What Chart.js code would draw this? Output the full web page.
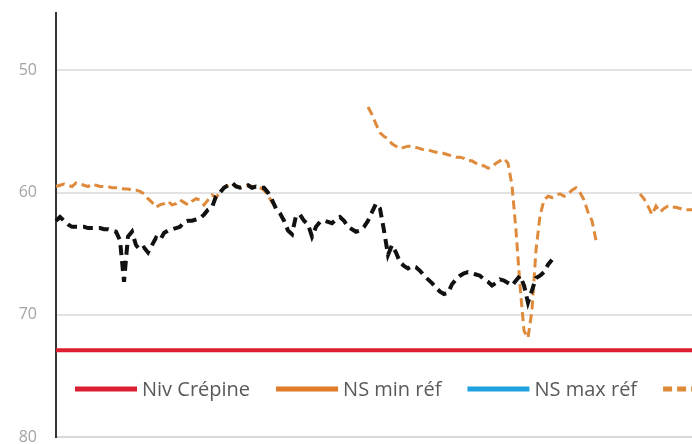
<!DOCTYPE html>
<html>
<head>
<meta charset="utf-8">
<script src="https://cdn.jsdelivr.net/npm/chart.js@4/dist/chart.umd.min.js"></script>
<style>
  html, body { margin: 0; padding: 0; background: #fff; overflow: hidden; }
  #wrap { position: relative; width: 692px; height: 444px; }
</style>
</head>
<body>
<div id="wrap"><canvas id="nsChart"></canvas></div>
<script>
// niveau de la crépine (constant)
const nivCrepine = 72.9;

// ticks de l'axe vertical (inversé)
const yTicks = [50, 60, 70, 80];

// mesures NS, série orange pointillée (null = pas de mesure)
const nsOrange = [
  59.5, 59.4, 59.3, 59.4, 59.5, 59.2, 59.3, 59.4, 59.5, 59.3,
  59.4, 59.5, 59.5, 59.5, 59.6, 59.6, 59.6, 59.7, 59.7, 59.8,
  59.8, 59.9, 60.1, 60.5, 60.8, 61.2, 61.0, 60.9, 60.7, 61.0,
  60.9, 60.6, 60.8, 61.0, 60.7, 60.5, 60.6, 61.0, 60.6, 60.2,
  60.4, 60.0, 59.6, 59.4, 59.3, 59.4, 59.6, 59.5, 59.4, 59.5,
  59.5, 59.6, 59.8, 60.2, 60.8, 61.1, null, null, null, null,
  null, null, null, null, null, null, null, null, null, null,
  null, null, null, null, null, null, null, null, 53.0, 53.6,
  54.4, 55.1, 55.4, 55.6, 56.0, 56.2, 56.4, 56.3, 56.2, 56.2,
  56.3, 56.4, 56.5, 56.5, 56.6, 56.7, 56.7, 56.8, 56.9, 57.0,
  57.1, 57.1, 57.2, 57.4, 57.4, 57.6, 57.8, 57.8, 58.0, 57.9,
  57.6, 57.4, 57.2, 57.6, 59.4, 63.1, 67.6, 71.3, 71.9, 69.6,
  64.7, 61.9, 60.6, 60.3, 60.4, 60.2, 60.1, 60.3, 60.1, 59.8,
  59.6, 60.0, 60.6, 61.6, 62.3, 63.9, null, null, null, null,
  null, null, null, null, null, null, 60.1, 60.5, 61.1, 61.8,
  61.1, 61.6, 61.3, 61.1, 61.2, 61.2, 61.3, 61.4, 61.4, 61.4
];

// mesures NS, série noire pointillée
const nsNoir = [
  62.3, 62.0, 62.3, 62.6, 62.8, 62.8, 62.8, 62.8, 62.9, 62.9,
  62.9, 62.9, 63.0, 63.0, 63.1, 63.2, 63.9, 67.3, 63.6, 63.2,
  64.3, 64.7, 64.5, 64.9, 64.3, 63.7, 63.9, 63.3, 63.1, 63.0,
  62.9, 62.8, 62.4, 62.3, 62.3, 62.2, 62.1, 61.8, 61.4, 61.2,
  60.3, 60.0, 59.6, 59.4, 59.2, 59.5, 59.6, 59.5, 59.4, 59.6,
  59.5, 59.6, 59.6, 60.0, 60.6, 61.3, 61.7, 62.3, 63.1, 63.4,
  61.9, 61.8, 62.3, 62.6, 63.6, 62.8, 62.4, 62.3, 62.4, 62.5,
  62.2, 62.0, 62.3, 62.8, 63.0, 63.2, 63.1, 62.8, 62.3, 61.6,
  60.9, 61.3, 63.1, 65.1, 64.3, 64.9, 65.7, 66.0, 66.2, 66.0,
  66.1, 66.4, 66.8, 67.1, 67.4, 67.8, 68.1, 68.3, 68.2, 67.5,
  67.1, 66.8, 66.6, 66.5, 66.6, 66.7, 66.8, 67.1, 67.3, 67.6,
  67.4, 67.1, 67.2, 67.4, 67.6, 67.2, 66.8, 67.6, 69.0, 68.0,
  67.0, 66.8, 66.5, 65.9, 65.5, null, null, null, null, null,
  null, null, null, null, null, null, null, null, null, null,
  null, null, null, null, null, null, null, null, null, null,
  null, null, null, null, null, null, null, null, null, null
];

// NS min / max de référence : aucune valeur visible
const nsMinRef = [];
const nsMaxRef = [];

// une catégorie par relevé
const labels = nsOrange.map((_, i) => i + 1);

// légende dessinée dans la zone du graphique, comme dans Excel
const insideLegend = {
    id: 'insideLegend',
    afterDraw(chart) {
        const ctx = chart.ctx;
        const y = chart.chartArea.bottom - 48;
        let x = chart.chartArea.left + 19;
        ctx.save();
        ctx.font = '20px "Open Sans"';
        ctx.textBaseline = 'middle';
        chart.data.datasets.forEach(ds => {
            ctx.beginPath();
            ctx.setLineDash(ds.borderDash || []);
            ctx.strokeStyle = ds.borderColor;
            ctx.lineWidth = ds.legendWidth || ds.borderWidth;
            ctx.moveTo(x, y);
            ctx.lineTo(x + 62, y);
            ctx.stroke();
            ctx.setLineDash([]);
            ctx.fillStyle = '#5a5a5a';
            ctx.fillText(ds.label, x + 67, y + 1);
            x += 67 + ctx.measureText(ds.label).width + 26;
        });
        ctx.restore();
    }
};

const ctx = document.getElementById('nsChart').getContext('2d');
new Chart(ctx, {
    type: 'line',
    data: {
        labels: labels,
        datasets: [
            {
                label: 'Niv Crépine',
                data: [{ x: labels[0], y: nivCrepine }, { x: labels[labels.length - 1], y: nivCrepine }],
                borderColor: '#dc1e32',
                borderWidth: 4,
                legendWidth: 5,
                order: 3
            },
            {
                label: 'NS min réf',
                data: nsMinRef,
                borderColor: '#e07b27',
                borderWidth: 5
            },
            {
                label: 'NS max réf',
                data: nsMaxRef,
                borderColor: '#1fa3e0',
                borderWidth: 5
            },
            {
                label: 'NS 2022',
                data: nsOrange,
                borderColor: '#df8a3a',
                borderWidth: 3,
                borderDash: [9, 5],
                legendWidth: 5,
                order: 2
            },
            {
                label: 'NS 2023',
                data: nsNoir,
                borderColor: '#111111',
                borderWidth: 4,
                borderDash: [10, 6],
                order: 1
            }
        ]
    },
    options: {
        responsive: true,
        maintainAspectRatio: false,
        animation: false,
        spanGaps: false,
        elements: {
            point: { radius: 0 },
            line: { tension: 0, fill: false }
        },
        layout: { autoPadding: false, padding: { top: 13, bottom: 7, left: 0, right: 0 } },
        plugins: {
            legend: { display: false },
            tooltip: { enabled: false }
        },
        scales: {
            x: {
                ticks: { display: false },
                grid: { display: false },
                border: { display: true, color: '#d9d9d9', width: 2 },
                afterFit(scale) { scale.height = 0; }
            },
            y: {
                reverse: true,
                min: 45.3,
                max: 80,
                afterBuildTicks(scale) {
                    scale.ticks = yTicks.map(v => ({ value: v }));
                },
                afterFit(scale) {
                    scale.width = 56;
                    scale.paddingTop = 0;
                    scale.paddingBottom = 0;
                },
                ticks: {
                    padding: 19,
                    color: '#a3a3a3',
                    font: { family: 'Open Sans', size: 16 }
                },
                grid: {
                    color: '#e3e3e3',
                    lineWidth: 2,
                    drawTicks: false
                },
                border: { display: true, color: '#333333', width: 2 }
            }
        }
    },
    plugins: [insideLegend]
});
</script>
</body>
</html>
